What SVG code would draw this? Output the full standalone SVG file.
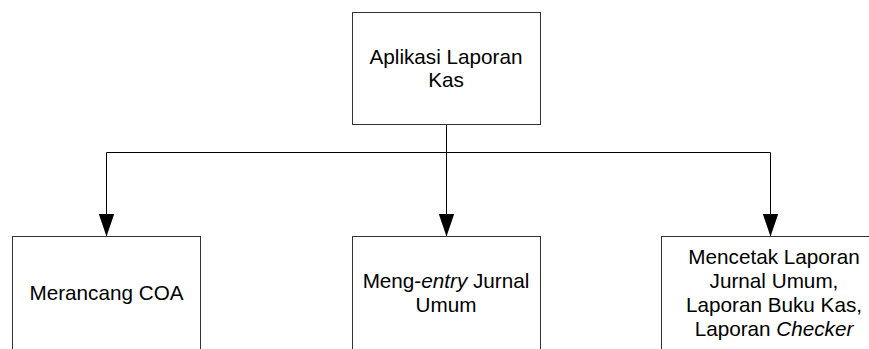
<svg xmlns="http://www.w3.org/2000/svg" width="869" height="349" viewBox="0 0 869 349">
  <style>
    .box { fill: #ffffff; stroke: #333333; stroke-width: 1; }
    .label { font-family: "Liberation Sans", Arial, sans-serif; font-size: 20.7px; fill: #000000; text-anchor: middle; }
    .wire { fill: none; stroke: #000000; stroke-width: 1; }
  </style>
  <defs>
    <marker id="arrow" markerUnits="userSpaceOnUse" markerWidth="24" markerHeight="18" viewBox="0 -8 23 16" refX="22" refY="0" orient="auto">
      <path d="M0,-7.5 L22,0 L0,7.5 z" fill="#000000"/>
    </marker>
  </defs>
  <rect width="869" height="349" fill="#ffffff"/>

  <g id="connectors">
    <path class="wire" d="M446.5,124.5 V152.5"/>
    <path class="wire" d="M106.5,152.5 H770.5"/>
    <path class="wire" d="M106.5,152.5 V236.5" marker-end="url(#arrow)"/>
    <path class="wire" d="M446.5,152.5 V236.5" marker-end="url(#arrow)"/>
    <path class="wire" d="M770.5,152.5 V236.5" marker-end="url(#arrow)"/>
  </g>

  <g id="aplikasi-laporan-kas">
    <rect class="box" x="352.5" y="12.5" width="188" height="112"/>
    <text class="label" x="446" y="63.5">Aplikasi Laporan</text>
    <text class="label" x="446" y="87.3">Kas</text>
  </g>

  <!-- the lower boxes run past the bottom edge of the sheet -->
  <g id="merancang-coa">
    <rect class="box" x="12.5" y="236.5" width="188" height="130"/>
    <text class="label" x="106.5" y="300">Merancang COA</text>
  </g>

  <g id="meng-entry-jurnal-umum">
    <rect class="box" x="352.5" y="236.5" width="188" height="130"/>
    <text class="label" x="446" y="288">Meng-<tspan font-style="italic">entry</tspan> Jurnal</text>
    <text class="label" x="446" y="311.8">Umum</text>
  </g>

  <g id="mencetak-laporan">
    <rect class="box" x="661.5" y="236.5" width="226" height="130"/>
    <text class="label" x="774" y="264.3">Mencetak Laporan</text>
    <text class="label" x="774" y="288.1">Jurnal Umum,</text>
    <text class="label" x="774" y="311.9">Laporan Buku Kas,</text>
    <text class="label" x="774" y="335.7">Laporan <tspan font-style="italic">Checker</tspan></text>
  </g>
</svg>
